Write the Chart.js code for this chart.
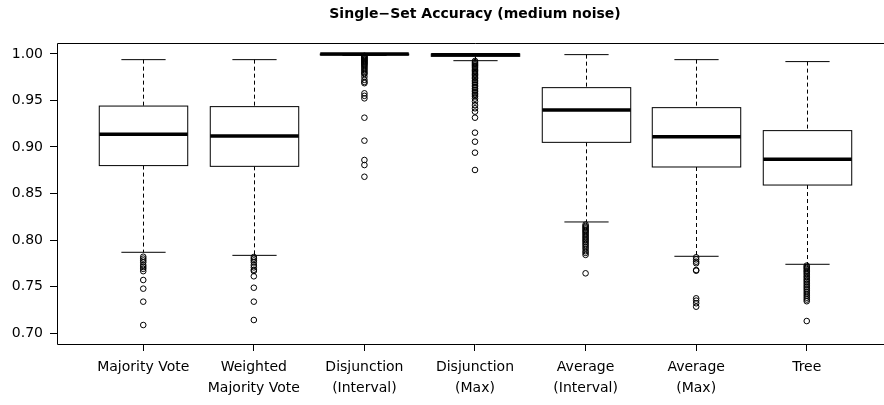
<!DOCTYPE html>
<html>
<head>
<meta charset="utf-8">
<script src="https://cdn.jsdelivr.net/npm/chart.js@4/dist/chart.umd.min.js"></script>
<style>
  html, body { margin: 0; padding: 0; background: #fff; overflow: hidden; }
  #wrap { width: 910px; height: 405px; }
</style>
</head>
<body>
<div id="wrap"><canvas id="boxChart" width="910" height="405"></canvas></div>
<script>
// Single-Set Accuracy (medium noise) - R style boxplot drawn on Chart.js scales

const chartTitle = 'Single\u2212Set Accuracy (medium noise)';
const categories = [
    ['Majority Vote'],
    ['Weighted', 'Majority Vote'],
    ['Disjunction', '(Interval)'],
    ['Disjunction', '(Max)'],
    ['Average', '(Interval)'],
    ['Average', '(Max)'],
    ['Tree']
];
const yTicks = [0.70, 0.75, 0.80, 0.85, 0.90, 0.95, 1.00];

// five-number summaries, one value per category
const lowWhisker  = [0.7868, 0.7835, 0.9985, 0.9928, 0.8194, 0.7825, 0.7739];
const lowerQuart  = [0.8800, 0.8792, 0.9990, 0.9975, 0.9050, 0.8785, 0.8591];
const medians     = [0.9136, 0.9118, 1.0000, 0.9992, 0.9398, 0.9111, 0.8867];
const upperQuart  = [0.9440, 0.9434, 1.0000, 1.0000, 0.9638, 0.9423, 0.9176];
const highWhisker = [0.9939, 0.9939, 1.0000, 1.0000, 0.9993, 0.9939, 0.9918];

// outliers per category
const outMajority = [0.7820, 0.7800, 0.7780, 0.7760, 0.7730, 0.7710, 0.7690, 0.7665,
    0.7570, 0.7477, 0.7337, 0.7086];
const outWeighted = [0.7817, 0.7799, 0.7780, 0.7760, 0.7730, 0.7706, 0.7680, 0.7667,
    0.7610, 0.7487, 0.7337, 0.7140];
const outDisjInterval = [0.9980, 0.9972, 0.9965, 0.9958, 0.9950, 0.9942, 0.9935, 0.9927,
    0.9918, 0.9910, 0.9901, 0.9893, 0.9884, 0.9870, 0.9858, 0.9842, 0.9828, 0.9812,
    0.9795, 0.9785, 0.9755, 0.9722, 0.9700, 0.9686, 0.9577, 0.9550, 0.9523, 0.9315,
    0.9068, 0.8860, 0.8806, 0.8680];
const outDisjMax = [0.9925, 0.9912, 0.9900, 0.9888, 0.9875, 0.9862, 0.9850, 0.9836,
    0.9822, 0.9808, 0.9794, 0.9780, 0.9765, 0.9750, 0.9735, 0.9718, 0.9700, 0.9685,
    0.9665, 0.9648, 0.9630, 0.9612, 0.9595, 0.9578, 0.9560, 0.9545, 0.9520, 0.9490,
    0.9450, 0.9416, 0.9380, 0.9315, 0.9154, 0.9057, 0.8939, 0.8753];
const outAvgInterval = [0.8165, 0.8150, 0.8138, 0.8125, 0.8110, 0.8098, 0.8085, 0.8070,
    0.8055, 0.8040, 0.8025, 0.8010, 0.7995, 0.7980, 0.7962, 0.7945, 0.7925, 0.7905,
    0.7880, 0.7862, 0.7840, 0.7642];
const outAvgMax = [0.7814, 0.7792, 0.7767, 0.7750, 0.7677, 0.7670,
    0.7373, 0.7348, 0.7320, 0.7283];
const outTree = [0.7725, 0.7712, 0.7700, 0.7688, 0.7672, 0.7660, 0.7645, 0.7630,
    0.7612, 0.7598, 0.7580, 0.7565, 0.7548, 0.7530, 0.7512, 0.7495, 0.7478, 0.7460,
    0.7440, 0.7420, 0.7400, 0.7380, 0.7360, 0.7342, 0.7129];

const outliers = [outMajority, outWeighted, outDisjInterval, outDisjMax,
    outAvgInterval, outAvgMax, outTree];

const FONT = "'DejaVu Sans', sans-serif";

// boxes, whiskers and the frame, drawn underneath the outlier points
const boxPlugin = {
    id: 'rBoxes',
    beforeDatasetsDraw(chart) {
        const { ctx, chartArea: area, scales } = chart;
        const xs = scales.x, ys = scales.y;
        const halfBox = (xs.getPixelForValue(1.4) - xs.getPixelForValue(1));
        const halfCap = halfBox / 2;
        const seg = (x1, y1, x2, y2) => {
            ctx.beginPath();
            ctx.moveTo(x1, y1);
            ctx.lineTo(x2, y2);
            ctx.stroke();
        };

        ctx.save();
        ctx.strokeStyle = '#000';
        ctx.lineWidth = 1;

        categories.forEach((c, i) => {
            const cx = Math.round(xs.getPixelForValue(i + 1)) + 0.5;
            const pLo = ys.getPixelForValue(lowWhisker[i]);
            const pQ1 = ys.getPixelForValue(lowerQuart[i]);
            const pMed = ys.getPixelForValue(medians[i]);
            const pQ3 = ys.getPixelForValue(upperQuart[i]);
            const pHi = ys.getPixelForValue(highWhisker[i]);

            // dashed whiskers
            ctx.setLineDash([4, 3]);
            seg(cx, pHi, cx, pQ3);
            seg(cx, pQ1, cx, pLo);
            ctx.setLineDash([]);

            // staples
            seg(cx - halfCap, pHi, cx + halfCap, pHi);
            seg(cx - halfCap, pLo, cx + halfCap, pLo);

            // box
            ctx.fillStyle = '#fff';
            ctx.fillRect(cx - halfBox, pQ3, halfBox * 2, pQ1 - pQ3);
            ctx.strokeRect(cx - halfBox, pQ3, halfBox * 2, pQ1 - pQ3);

            // median
            ctx.lineWidth = 3.5;
            ctx.lineCap = 'butt';
            seg(cx - halfBox, pMed, cx + halfBox, pMed);
            ctx.lineWidth = 1;
        });

        // plot frame (right side falls outside the visible window)
        const l = Math.round(area.left) + 0.5;
        const t = Math.round(area.top) + 0.5;
        const b = Math.round(area.bottom) + 0.5;
        const r = area.right;
        ctx.beginPath();
        ctx.moveTo(r, t);
        ctx.lineTo(l, t);
        ctx.lineTo(l, b);
        ctx.lineTo(r, b);
        ctx.stroke();
        ctx.restore();
    },
    afterDraw(chart) {
        const { ctx, chartArea: area } = chart;
        ctx.save();
        ctx.fillStyle = '#000';
        ctx.font = 'bold 14px ' + FONT;
        ctx.textAlign = 'center';
        ctx.textBaseline = 'middle';
        ctx.fillText(chartTitle, (area.left + area.right) / 2, 14);
        ctx.restore();
    }
};

// scatter points for the outliers, x = category position
const outlierPoints = [];
outliers.forEach((list, i) => {
    list.forEach(v => outlierPoints.push({ x: i + 1, y: v }));
});

new Chart(document.getElementById('boxChart'), {
    type: 'scatter',
    data: {
        datasets: [{
            label: 'outliers',
            data: outlierPoints,
            pointStyle: 'circle',
            pointRadius: 2.8,
            pointHoverRadius: 2.8,
            borderWidth: 1,
            borderColor: '#000',
            backgroundColor: 'rgba(0,0,0,0)'
        }]
    },
    options: {
        responsive: false,
        animation: false,
        events: [],
        layout: { padding: { top: 43, right: 17, left: 0, bottom: 0 } },
        plugins: {
            legend: { display: false },
            tooltip: { enabled: false },
            title: { display: false }
        },
        scales: {
            x: {
                type: 'linear',
                min: 0.22,
                max: 7.78,
                afterFit: s => { s.height = 61; },
                afterBuildTicks: s => { s.ticks = categories.map((c, i) => ({ value: i + 1 })); },
                grid: { drawOnChartArea: false, drawTicks: true, tickLength: 7, color: '#000' },
                border: { display: false },
                ticks: {
                    callback: v => categories[v - 1],
                    color: '#000',
                    padding: 6,
                    maxRotation: 0,
                    autoSkip: false,
                    font: { family: FONT, size: 14, lineHeight: 1.5 }
                }
            },
            y: {
                type: 'linear',
                min: 0.6882,
                max: 1.0118,
                afterFit: s => { s.width = 57; },
                afterBuildTicks: s => { s.ticks = yTicks.map(v => ({ value: v })); },
                grid: { drawOnChartArea: false, drawTicks: true, tickLength: 7, color: '#000' },
                border: { display: false },
                ticks: {
                    callback: v => v.toFixed(2),
                    color: '#000',
                    padding: 7,
                    font: { family: FONT, size: 14 }
                }
            }
        }
    },
    plugins: [boxPlugin]
});
</script>
</body>
</html>
